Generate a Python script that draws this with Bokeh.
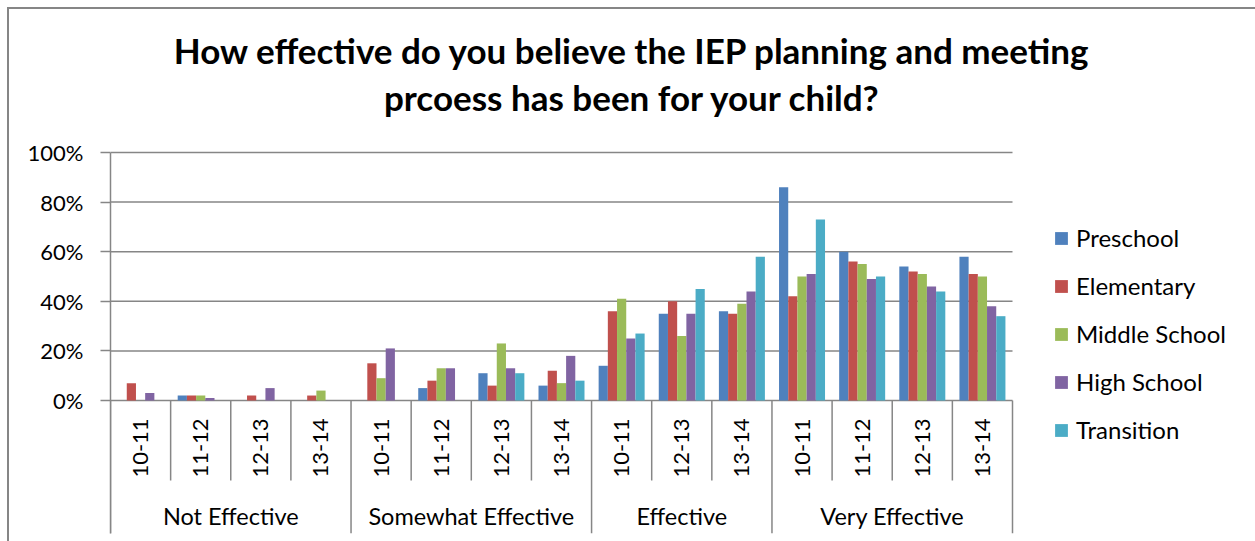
import math
from bokeh.plotting import figure
from bokeh.models import (ColumnDataSource, FixedTicker, PrintfTickFormatter,
                          Legend, LegendItem, Range1d)
from bokeh.core.properties import value
from bokeh.embed import file_html
from bokeh.resources import INLINE

# ---------------- data ----------------
title_lines = ["How effective do you believe the IEP planning and meeting",
               "prcoess has been for your child?"]
categories = ["Not Effective", "Somewhat Effective", "Effective", "Very Effective"]
years_not = ["10-11", "11-12", "12-13", "13-14"]
years_somewhat = ["10-11", "11-12", "12-13", "13-14"]
years_effective = ["10-11", "12-13", "13-14"]
years_very = ["10-11", "11-12", "12-13", "13-14"]
series_names = ["Preschool", "Elementary", "Middle School", "High School", "Transition"]
preschool = [0, 2, 0, 0, 0, 5, 11, 6, 14, 35, 36, 86, 60, 54, 58]
elementary = [7, 2, 2, 2, 15, 8, 6, 12, 36, 40, 35, 42, 56, 52, 51]
middle_school = [0, 2, 0, 4, 9, 13, 23, 7, 41, 26, 39, 50, 55, 51, 50]
high_school = [3, 1, 5, 0, 21, 13, 13, 18, 25, 35, 44, 51, 49, 46, 38]
transition = [0, 0, 0, 0, 0, 0, 11, 8, 27, 45, 58, 73, 50, 44, 34]
y_ticks = [0, 20, 40, 60, 80, 100]

colors = ["#4F81BD", "#C0504D", "#9BBB59", "#8064A2", "#4BACC6"]
FONT = "Lato"
GRID = "#868686"

# ------------- derived category positions (one slot per category) -------------
year_lists = [years_not, years_somewhat, years_effective, years_very]
factors = [(c, y) for c, ys in zip(categories, year_lists) for y in ys]
n = len(factors)
centers = [k + 0.5 for k in range(n)]
values = [preschool, elementary, middle_school, high_school, transition]

W, H = 1255, 541
PLOT_L, PLOT_R = 110, 1012      # plot-area edges (px)
PX = 2.48                       # pixels per percent
y_bottom = -(133 / PX)
y_top = 100 + 152 / PX
x_end = n * (W - PLOT_L) / (PLOT_R - PLOT_L)

p = figure(width=W, height=H, x_range=Range1d(0, x_end), y_range=Range1d(y_bottom, y_top),
           output_backend="svg", toolbar_location=None, x_axis_location=None,
           min_border_left=PLOT_L, min_border_right=0, min_border_top=0,
           min_border_bottom=8)
p.title.visible = False
p.outline_line_color = None
p.xgrid.visible = False
p.ygrid.visible = False
p.border_fill_alpha = 0
p.background_fill_alpha = 0
p.styles = {
    "background": "linear-gradient(#868686,#868686) 7px 7px / 2px 100% no-repeat, "
                  "linear-gradient(#868686,#868686) 7px 7px / 100% 2px no-repeat, white"
}

# title
title_x = n * (632 - PLOT_L) / (PLOT_R - PLOT_L)
ts = ColumnDataSource(dict(x=[title_x, title_x],
                           y=[100 + (152 - 49.5) / PX, 100 + (152 - 96) / PX],
                           text=title_lines))
p.text(x="x", y="y", text="text", source=ts, text_align="center", text_baseline="middle",
       text_font=value(FONT), text_font_size="35px", text_font_style="bold",
       text_color="black")

# y axis
p.yaxis.ticker = FixedTicker(ticks=y_ticks)
p.yaxis.bounds = (y_bottom, 100)
p.yaxis.formatter = PrintfTickFormatter(format="%d%%")
p.yaxis.major_label_text_font = FONT
p.yaxis.major_label_text_font_size = "22px"
p.yaxis.major_label_text_color = "black"
p.yaxis.major_label_standoff = 17
p.yaxis.major_tick_in = 0
p.yaxis.major_tick_out = 10
p.yaxis.minor_tick_line_color = None
p.yaxis.axis_line_color = GRID
p.yaxis.axis_line_width = 1.5
p.yaxis.major_tick_line_color = GRID
p.yaxis.major_tick_line_width = 1.5

# horizontal gridlines across the plot area only
gsrc = ColumnDataSource(dict(y=y_ticks, x0=[0] * len(y_ticks), x1=[n] * len(y_ticks)))
p.segment(x0="x0", x1="x1", y0="y", y1="y", source=gsrc, line_color=GRID, line_width=1.5)

# bars
bw = 0.153
items = []
for i, (name, col, vals) in enumerate(zip(series_names, colors, values)):
    src = ColumnDataSource(dict(x=[c + (i - 2) * bw for c in centers], top=vals))
    r = p.vbar(x="x", top="top", width=bw, source=src, fill_color=col, line_color=None)
    items.append(LegendItem(label=name, renderers=[r]))

# category axis area: dividers and labels
year_sep = [k + 1 for k in range(n - 1) if factors[k + 1][0] == factors[k][0]]
group_edges = [k for k in range(n) if k == 0 or factors[k - 1][0] != factors[k][0]] + [n]
ysrc = ColumnDataSource(dict(x=year_sep))
gsrc2 = ColumnDataSource(dict(x=group_edges))
p.segment(x0="x", x1="x", y0=0, y1=-(80 / PX), source=ysrc, line_color=GRID, line_width=1.5)
p.segment(x0="x", x1="x", y0=0, y1=y_bottom, source=gsrc2, line_color=GRID, line_width=1.5)

lsrc = ColumnDataSource(dict(x=centers, text=[f[1] for f in factors]))
p.text(x="x", y=-(47.5 / PX), text="text", source=lsrc, angle=math.pi / 2,
       text_align="center", text_baseline="middle", text_font=value(FONT),
       text_font_size="22px", text_color="black")
group_centers = [(group_edges[j] + group_edges[j + 1]) / 2 for j in range(len(categories))]
csrc = ColumnDataSource(dict(x=group_centers, text=categories))
p.text(x="x", y=-(115 / PX), text="text", source=csrc, text_align="center",
       text_baseline="middle", text_font=value(FONT), text_font_size="23.5px",
       text_color="black")

legend = Legend(items=items, location=(943, 89), orientation="vertical")
legend.label_text_font = FONT
legend.label_text_font_size = "24px"
legend.label_text_color = "black"
legend.glyph_width = 16
legend.glyph_height = 16
legend.label_standoff = 7
legend.label_height = 28
legend.spacing = 19
legend.padding = 0
legend.margin = 0
legend.border_line_color = None
legend.background_fill_alpha = 0
p.add_layout(legend)

open("out.html", "w").write(file_html(p, INLINE))
